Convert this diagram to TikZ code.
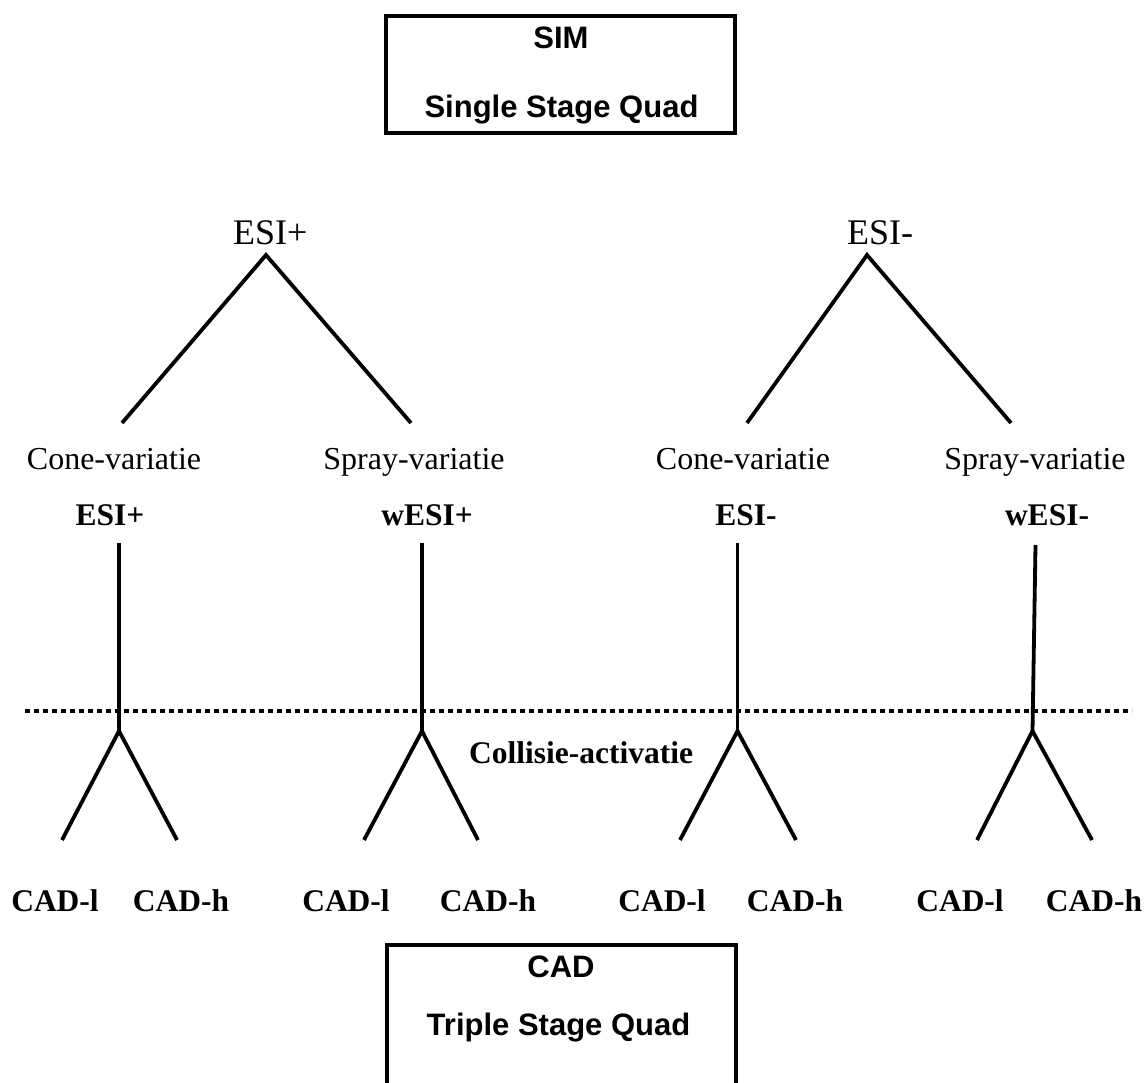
\documentclass[tikz,border=0pt]{standalone}
\usepackage{fontspec}
\setmainfont{Liberation Serif}
\newfontfamily\arialfont{Liberation Sans}
\begin{document}
\begin{tikzpicture}[x=1pt,y=-1pt,
  ln/.style={line width=3.8pt, line join=miter},
  boxnode/.style={draw, line width=4pt, minimum width=349pt, inner sep=0pt},
  head/.style={font=\fontsize{36}{40}\selectfont, inner sep=0pt, anchor=base west},
  var/.style={font=\fontsize{32}{36}\selectfont, inner sep=0pt, anchor=base},
  lbl/.style={font=\fontsize{31.5}{36}\selectfont\bfseries, inner sep=0pt, anchor=base},
  boxtxt/.style={font=\arialfont\bfseries\fontsize{31}{36}\selectfont, inner sep=0pt, anchor=base},
  dots/.style={line width=4pt, dash pattern=on 5pt off 4pt}
]
\clip (0,0) rectangle (1145,1082);
\fill[white] (0,0) rectangle (1145,1082);

% boxes
\node[boxnode, minimum height=117pt] (sim) at (560.5,74.5) {};
\node[boxtxt] (simt) at (561,48) {SIM};
\node[boxtxt] (simq) at (561.5,117) {Single Stage Quad};
\node[boxnode, minimum height=200pt] (cad) at (561.5,1045) {};
\node[boxtxt] (cadt) at (561,977) {CAD};
\node[boxtxt] (cadq) at (558.5,1035) {Triple Stage Quad};

% headers
\node[head] (hp) at (233,244) {ESI+};
\node[head] (hm) at (847,244) {ESI-};
\coordinate (ap) at (266,255);
\coordinate (am) at (867,255);
\coordinate (b1) at (122,423);
\coordinate (b2) at (411,423);
\coordinate (b3) at (747,423);
\coordinate (b4) at (1011,423);
\draw[ln] (b1) -- (ap) -- (b2);
\draw[ln] (b3) -- (am) -- (b4);

% variation labels
\node[var] (v1) at (114,469) {Cone-variatie};
\node[var] (v2) at (414,469) {Spray-variatie};
\node[var] (v3) at (743,469) {Cone-variatie};
\node[var] (v4) at (1035,469) {Spray-variatie};
\node[lbl] (m1) at (110,525) {ESI+};
\node[lbl] (m2) at (427,525) {wESI+};
\node[lbl] (m3) at (746,525) {ESI-};
\node[lbl] (m4) at (1047,525) {wESI-};

% dotted line
\coordinate (dl) at (25,711);
\coordinate (dr) at (1132,711);
\draw[dots] (dl) -- (dr);

% verticals and Y branches
\coordinate (t1) at (119,543);   \coordinate (y1) at (119,731);
\coordinate (t2) at (422,543);   \coordinate (y2) at (422,731);
\coordinate (t3) at (737.5,543); \coordinate (y3) at (737.5,731);
\coordinate (t4) at (1035.5,545);\coordinate (y4) at (1032.5,731);
\coordinate (l1) at (62,840);  \coordinate (r1) at (177,840);
\coordinate (l2) at (364,840); \coordinate (r2) at (478,840);
\coordinate (l3) at (680,840); \coordinate (r3) at (796,840);
\coordinate (l4) at (977,840); \coordinate (r4) at (1092,840);
\foreach \i in {1,2,3,4}{
  \draw[ln] (t\i) -- (y\i);
  \draw[ln] (l\i) -- (y\i) -- (r\i);
}

\node[lbl, anchor=base west] (coll) at (469,763) {Collisie-activatie};

% CAD labels
\node[lbl] (c1l) at (55,911) {CAD-l};
\node[lbl] (c1h) at (181,911) {CAD-h};
\node[lbl] (c2l) at (346,911) {CAD-l};
\node[lbl] (c2h) at (488,911) {CAD-h};
\node[lbl] (c3l) at (662,911) {CAD-l};
\node[lbl] (c3h) at (795,911) {CAD-h};
\node[lbl] (c4l) at (960,911) {CAD-l};
\node[lbl] (c4h) at (1094,911) {CAD-h};
\end{tikzpicture}
\end{document}
